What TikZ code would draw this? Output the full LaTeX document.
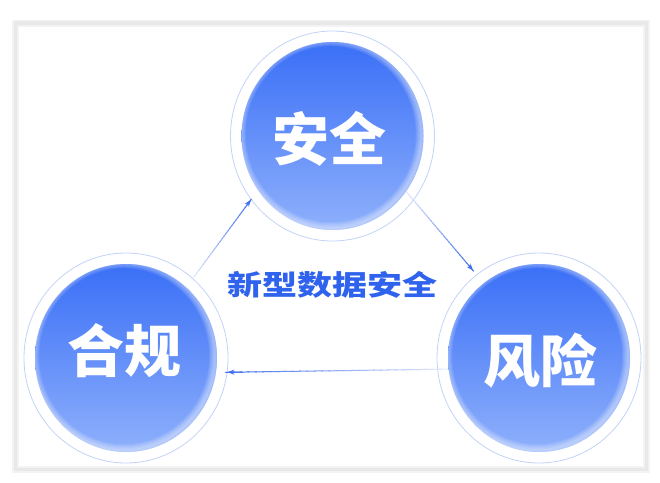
\documentclass[tikz,border=0pt]{standalone}
\usepackage{fontspec}
\newfontfamily\cjkbold{Noto Sans CJK SC Black}
\newfontfamily\cjkblack{Noto Sans CJK SC Black}
\usetikzlibrary{shapes.geometric,arrows.meta,calc}
\definecolor{ballTop}{HTML}{3A6FF7}
\definecolor{ballBot}{HTML}{8EB0FB}
\definecolor{ringC}{HTML}{C3D3F7}
\definecolor{midText}{HTML}{2F63EE}
\definecolor{arrDark}{HTML}{3F6FF0}
\definecolor{arrLight}{HTML}{E2E9FB}
\definecolor{frameA}{HTML}{F3F3F3}
\definecolor{frameB}{HTML}{E8E8E8}
\tikzset{
  ring/.style={ellipse, draw=ringC, line width=0.8pt, minimum width=204pt, minimum height=210pt, inner sep=0pt},
  ball/.style={ellipse, minimum width=182pt, minimum height=188pt, inner sep=0pt, top color=ballTop, bottom color=ballBot, draw=none},
  lbl/.style={font=\cjkblack\fontsize{57}{57}\selectfont, text=white, inner sep=0pt},
  midlbl/.style={font=\cjkbold\fontsize{28}{28}\selectfont, text=midText, inner sep=0pt, xscale=1.25},
  tipst/.style={-{Stealth[length=7pt,width=5pt]}, arrDark, line width=1pt}
}
\newcommand\mkglow[2]{%
  \begin{scope}
    \clip (#1,#2) ellipse [x radius=91pt, y radius=94pt];
    \foreach \w in {2,4,6,8,10,12}{%
      \draw[white, opacity=0.09, line width=\w pt] ($(#1,#2)+(-1.8,-1.8)$) ellipse [x radius=91pt, y radius=94pt];
    }
  \end{scope}}
\newcommand\gradline[2]{%
  \foreach \i in {0,...,29}{%
    \pgfmathsetmacro\pa{\i/30}%
    \pgfmathsetmacro\pb{(\i+1.3)/30}%
    \pgfmathtruncatemacro\pm{\i*100/29}%
    \draw[color=arrDark!\pm!arrLight, line width=1pt] ($(#1)!\pa!(#2)$) -- ($(#1)!\pb!(#2)$);
  }%
  \draw[tipst] ($(#1)!0.93!(#2)$) -- (#2);}
\begin{document}
\begin{tikzpicture}[x=1pt,y=-1pt]
\useasboundingbox (0,0) rectangle (660,482);
\fill[white] (0,0) rectangle (660,482);
% frame
\draw[frameA, line width=7pt] (15.5,23) rectangle (646.5,469.5);
\draw[frameB, line width=3.5pt] (15.5,23) rectangle (646.5,469.5);
% rings
\node[ring] (tring) at (332.5,136) {};
\node[ring] (lring) at (126,358) {};
\node[ring] (rring) at (539,358) {};
% balls
\node[ball] (tball) at (332.5,136) {};
\node[ball] (lball) at (126,358) {};
\node[ball] (rball) at (539,358) {};
\mkglow{332.5}{136}
\mkglow{126}{358}
\mkglow{539}{358}
% labels
\node[lbl] (tA) at (329,139) {安全};
\node[lbl] (tL) at (124,351) {合规};
\node[lbl] (tR) at (540,361) {风险};
\node[midlbl] (mid) at (332,285) {新型数据安全};
% connectors
\coordinate (a1s) at (lring.50);
\coordinate (a1e) at (tring.218);
\coordinate (a2s) at (tball.-37);
\coordinate (a2e) at ($(rring.center)!1.05!(rring.127)$);
\coordinate (a3s) at (rball.187);
\coordinate (a3e) at (lring.-8);
\gradline{a1s}{a1e}
\gradline{a2s}{a2e}
\gradline{a3s}{a3e}
\end{tikzpicture}
\end{document}
